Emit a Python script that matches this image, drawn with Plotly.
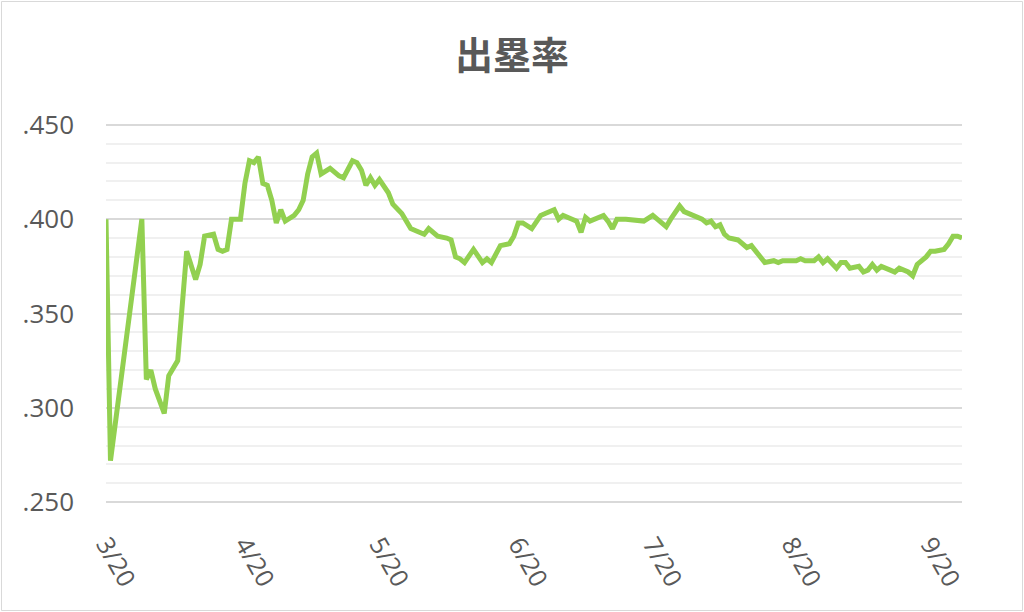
import plotly.graph_objects as go

# ---- data ----
dates = [
    "2019-03-20", "2019-03-21", "2019-03-28", "2019-03-29", "2019-03-30", "2019-03-31",
    "2019-04-02", "2019-04-03", "2019-04-05", "2019-04-06", "2019-04-07", "2019-04-09",
    "2019-04-10", "2019-04-11", "2019-04-13", "2019-04-14", "2019-04-15", "2019-04-16",
    "2019-04-17", "2019-04-19", "2019-04-20", "2019-04-21", "2019-04-22", "2019-04-23",
    "2019-04-24", "2019-04-25", "2019-04-26", "2019-04-27", "2019-04-28", "2019-04-29",
    "2019-05-01", "2019-05-02", "2019-05-03", "2019-05-04", "2019-05-05", "2019-05-06",
    "2019-05-07", "2019-05-09", "2019-05-11", "2019-05-12", "2019-05-14", "2019-05-15",
    "2019-05-16", "2019-05-17", "2019-05-18", "2019-05-19", "2019-05-20", "2019-05-22",
    "2019-05-23", "2019-05-25", "2019-05-27", "2019-05-28", "2019-05-30", "2019-05-31",
    "2019-06-02", "2019-06-04", "2019-06-05", "2019-06-06", "2019-06-07", "2019-06-08",
    "2019-06-10", "2019-06-12", "2019-06-13", "2019-06-14", "2019-06-16", "2019-06-18",
    "2019-06-19", "2019-06-20", "2019-06-21", "2019-06-23", "2019-06-25", "2019-06-26",
    "2019-06-28", "2019-06-29", "2019-06-30", "2019-07-02", "2019-07-03", "2019-07-04",
    "2019-07-05", "2019-07-06", "2019-07-09", "2019-07-10", "2019-07-11", "2019-07-12",
    "2019-07-14", "2019-07-18", "2019-07-20", "2019-07-21", "2019-07-23", "2019-07-24",
    "2019-07-26", "2019-07-27", "2019-07-29", "2019-07-31", "2019-08-01", "2019-08-02",
    "2019-08-03", "2019-08-04", "2019-08-05", "2019-08-06", "2019-08-08", "2019-08-09",
    "2019-08-10", "2019-08-11", "2019-08-12", "2019-08-13", "2019-08-14", "2019-08-16",
    "2019-08-17", "2019-08-18", "2019-08-19", "2019-08-21", "2019-08-22", "2019-08-23",
    "2019-08-25", "2019-08-26", "2019-08-27", "2019-08-28", "2019-08-30", "2019-08-31",
    "2019-09-01", "2019-09-02", "2019-09-04", "2019-09-05", "2019-09-06", "2019-09-07",
    "2019-09-08", "2019-09-09", "2019-09-11", "2019-09-12", "2019-09-13", "2019-09-15",
    "2019-09-16", "2019-09-17", "2019-09-19", "2019-09-20", "2019-09-21", "2019-09-23",
    "2019-09-24", "2019-09-25", "2019-09-26", "2019-09-27",
]

obp = [
    0.400, 0.272, 0.400, 0.315, 0.320, 0.310,
    0.297, 0.317, 0.325, 0.352, 0.383, 0.368,
    0.376, 0.391, 0.392, 0.384, 0.383, 0.384,
    0.400, 0.400, 0.419, 0.431, 0.430, 0.433,
    0.419, 0.418, 0.410, 0.398, 0.405, 0.399,
    0.402, 0.405, 0.410, 0.424, 0.433, 0.435,
    0.424, 0.427, 0.423, 0.422, 0.431, 0.430,
    0.426, 0.418, 0.422, 0.418, 0.421, 0.414,
    0.408, 0.403, 0.395, 0.394, 0.392, 0.395,
    0.391, 0.390, 0.389, 0.380, 0.379, 0.377,
    0.384, 0.377, 0.379, 0.377, 0.386, 0.387,
    0.391, 0.398, 0.398, 0.395, 0.402, 0.403,
    0.405, 0.400, 0.402, 0.400, 0.399, 0.393,
    0.401, 0.399, 0.402, 0.399, 0.395, 0.400,
    0.400, 0.399, 0.402, 0.400, 0.396, 0.400,
    0.407, 0.404, 0.402, 0.400, 0.398, 0.399,
    0.396, 0.397, 0.392, 0.390, 0.389, 0.387,
    0.385, 0.386, 0.383, 0.380, 0.377, 0.378,
    0.377, 0.378, 0.378, 0.378, 0.379, 0.378,
    0.378, 0.380, 0.377, 0.379, 0.374, 0.377,
    0.377, 0.374, 0.375, 0.372, 0.373, 0.376,
    0.373, 0.375, 0.373, 0.372, 0.374, 0.372,
    0.370, 0.376, 0.380, 0.383, 0.383, 0.384,
    0.387, 0.391, 0.391, 0.390,
]

title_text = "出塁率"
y_tickvals = [0.25, 0.30, 0.35, 0.40, 0.45]
y_ticktext = [".250", ".300", ".350", ".400", ".450"]
x_tickvals = ["2019-03-20", "2019-04-20", "2019-05-20", "2019-06-20",
              "2019-07-20", "2019-08-20", "2019-09-20"]
x_ticktext = ["3/20", "4/20", "5/20", "6/20", "7/20", "8/20", "9/20"]

# ---- figure ----
fig = go.Figure(
    go.Scatter(
        x=dates, y=obp, mode="lines",
        line=dict(color="#92D050", width=5),
        hoverinfo="x+y",
    )
)

fig.update_layout(
    width=1024, height=612,
    margin=dict(l=106, r=62, t=123, b=108),
    paper_bgcolor="white", plot_bgcolor="white",
    showlegend=False,
    font=dict(family="Open Sans, Noto Sans, sans-serif", color="#595959"),
    title=dict(
        text="<b>" + title_text + "</b>",
        x=0.5, xref="container", xanchor="center",
        y=1 - 56 / 612, yref="container", yanchor="middle",
        font=dict(family="Noto Sans CJK JP", size=38, color="#595959"),
    ),
    xaxis=dict(
        type="date",
        range=[dates[0], dates[-1]],
        tickvals=x_tickvals, ticktext=x_ticktext,
        tickangle=60,
        tickfont=dict(size=25, color="#595959"),
        showgrid=False, zeroline=False, showline=False,
        ticks="", ticklabelstandoff=20,
    ),
    yaxis=dict(
        range=[0.249, 0.451],
        tickvals=y_tickvals, ticktext=y_ticktext,
        tickfont=dict(size=26, color="#595959"),
        showgrid=True, gridcolor="#d9d9d9", gridwidth=1.5,
        minor=dict(dtick=0.01, tick0=0.25, showgrid=True, gridcolor="#f0f0f0", gridwidth=1.5),
        zeroline=False, showline=False,
        ticks="", ticklabelstandoff=31,
    ),
    shapes=[
        dict(
            type="rect", xref="paper", yref="paper",
            x0=(1.5 - 106) / 856, x1=(1022.5 - 106) / 856,
            y0=(504 - 610.5) / 381, y1=(504 - 1.5) / 381,
            line=dict(color="#d9d9d9", width=1), fillcolor="rgba(0,0,0,0)",
            layer="below",
        )
    ],
)

fig.write_html("out.html")
